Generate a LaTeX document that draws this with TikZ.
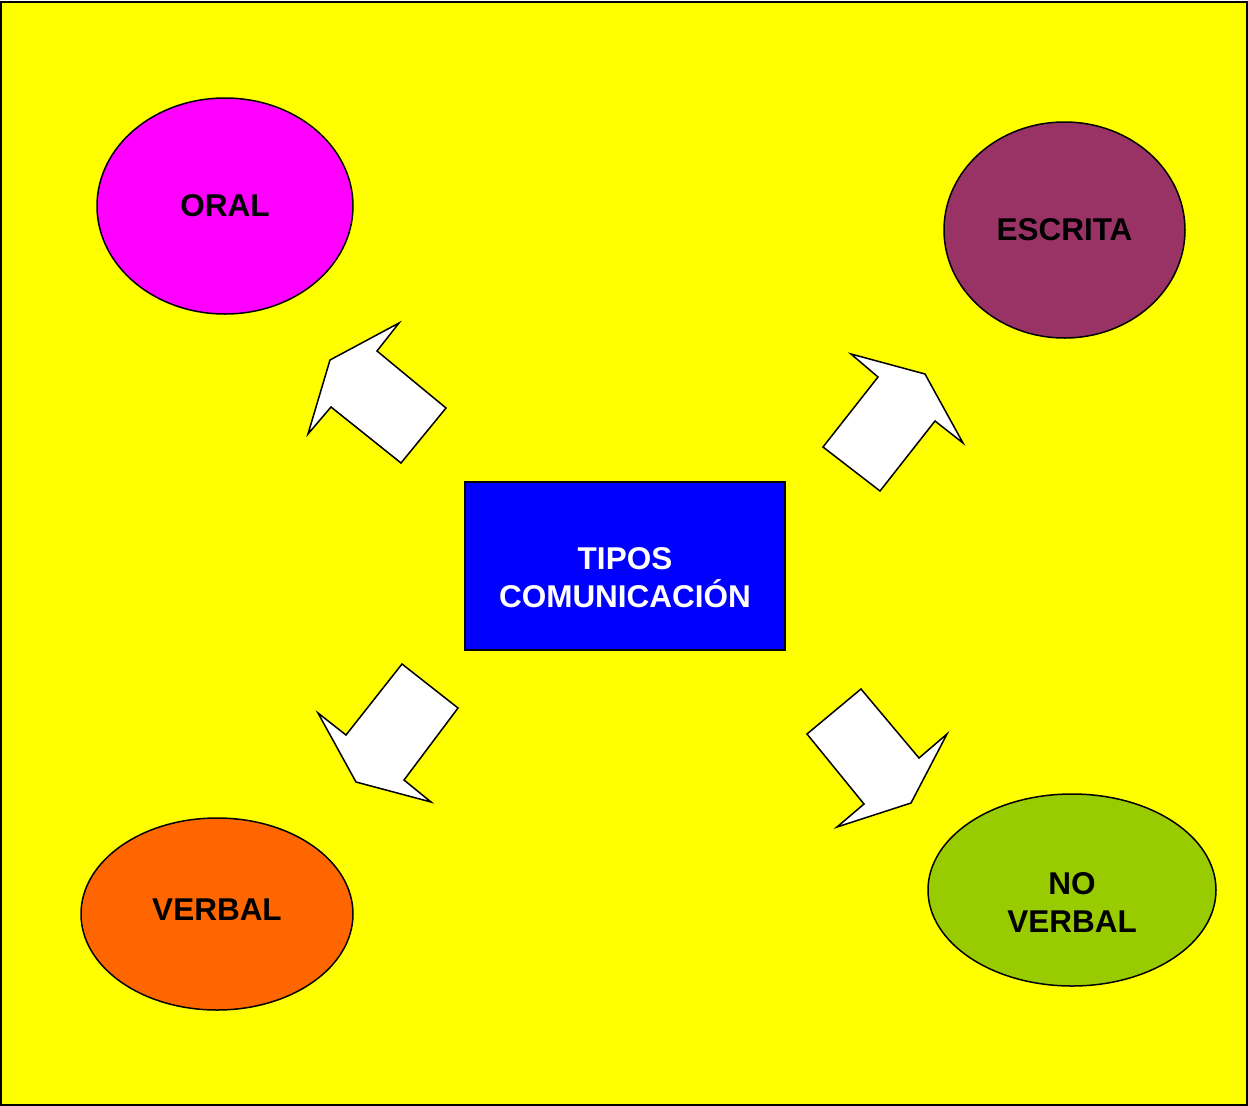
\documentclass[tikz,border=0pt]{standalone}
\usepackage{fontspec}
\setmainfont{Liberation Sans}
\usetikzlibrary{shapes.geometric}
\definecolor{bgyellow}{HTML}{FFFF00}
\definecolor{oralc}{HTML}{FF00FF}
\definecolor{escritac}{HTML}{993366}
\definecolor{verbalc}{HTML}{FF6600}
\definecolor{noverbalc}{HTML}{99CC00}
\definecolor{centerc}{HTML}{0000FF}
\begin{document}
\begin{tikzpicture}[x=1pt,y=-1pt,
  lbl/.style={font=\fontsize{31.5}{38}\selectfont\bfseries, align=center},
  bubble/.style={ellipse, draw=black, line width=1.5pt, inner sep=0pt, lbl},
  blockarrow/.style={draw=black, fill=white, line width=1.5pt, line join=miter}]
  \useasboundingbox (0,0) rectangle (1248,1106);
  % page frame
  \draw[fill=bgyellow, draw=black, line width=2pt] (1,1.5) rectangle (1247,1104.5);

  % central box
  \node[draw=black, fill=centerc, line width=1.5pt,
        minimum width=320pt, minimum height=168pt, inner sep=0pt]
        (tipos) at (625,566) {};
  \node[lbl, text=white] (tiposlbl) at (625,578) {TIPOS\\COMUNICACIÓN};

  % outcomes
  \node[bubble, fill=oralc, minimum width=256pt, minimum height=216pt] (oral) at (225,206) {ORAL};
  \node[bubble, fill=escritac, minimum width=241pt, minimum height=216pt] (escrita) at (1064.5,230) {ESCRITA};
  \node[bubble, fill=verbalc, minimum width=272pt, minimum height=192pt] (verbal) at (217,914) {};
  \node[lbl] (verballbl) at (217,910) {VERBAL};
  \node[bubble, fill=noverbalc, minimum width=288pt, minimum height=192pt] (noverbal) at (1072,890) {};
  \node[lbl] (noverballbl) at (1072,902) {NO\\VERBAL};

  % block arrows pointing from the centre outwards
  \draw[blockarrow] (399,323) -- (377,351) -- (446,408) -- (401,463) -- (331,407) -- (308,434) -- (330,360) -- cycle;
  \draw[blockarrow] (851,354) -- (925,374) -- (963,443) -- (935,421) -- (880,491) -- (823,447) -- (878,377) -- cycle;
  \draw[blockarrow] (402,664) -- (458,708) -- (404,780) -- (431,802) -- (356,782) -- (318,713) -- (346,735) -- cycle;
  \draw[blockarrow] (861,689) -- (919,758) -- (947,734) -- (911,803) -- (837,827) -- (864,804) -- (807,734) -- cycle;
\end{tikzpicture}
\end{document}
